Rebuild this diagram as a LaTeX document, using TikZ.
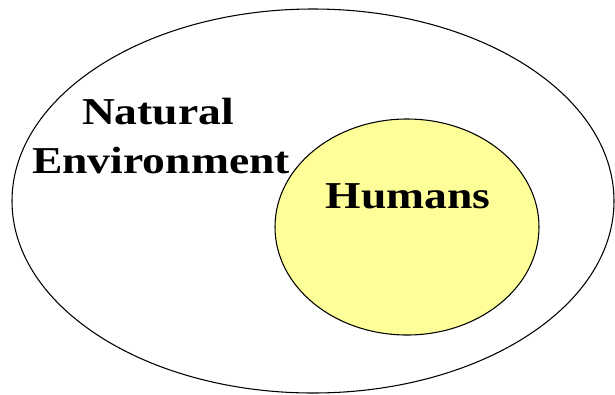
\documentclass[tikz,border=0pt]{standalone}
\usepackage{fontspec}
\setmainfont{Liberation Serif}[FakeStretch=1.2]
\usetikzlibrary{shapes.geometric}
\definecolor{humanyellow}{HTML}{FFFF99}
\tikzset{
  setbox/.style={draw,ellipse,line width=0.8pt,inner sep=0pt,outer sep=0pt},
  setlabel/.style={font=\fontsize{28.5}{34}\selectfont\bfseries,anchor=base,inner sep=0pt}
}
\begin{document}
\begin{tikzpicture}[x=0.75pt,y=-0.75pt]
\useasboundingbox (0,0) rectangle (615,394);
\node[setbox,minimum width=451.5pt,minimum height=288pt] (env) at (313,201) {};
\node[setbox,fill=humanyellow,minimum width=198pt,minimum height=162pt] (hum) at (407,227) {};
\node[setlabel] (natural) at (158,124) {Natural};
\node[setlabel] (environment) at (161,173) {Environment};
\node[setlabel] (humans) at (408,208) {Humans};
\end{tikzpicture}
\end{document}
